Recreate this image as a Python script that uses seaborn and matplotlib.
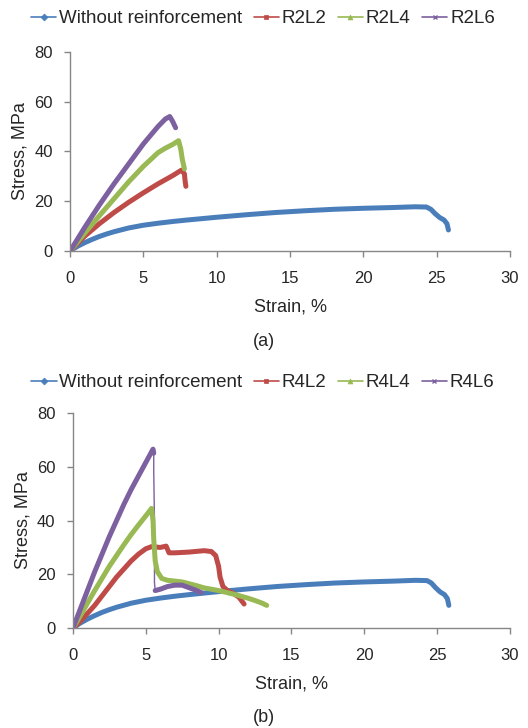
import numpy as np
import pandas as pd
import matplotlib
matplotlib.use("Agg")
import matplotlib.pyplot as plt
from matplotlib.lines import Line2D
import seaborn as sns

# --- data (strain %, stress MPa) ---
plain_x = [0, 0.25, 0.5, 1, 1.5, 2, 2.5, 3, 4, 5, 6, 7, 8, 10, 12, 14, 16, 18, 20, 22, 23.5, 24.3, 24.6, 24.9, 25.2, 25.5, 25.7, 25.8]
plain_y = [0, 1.0, 1.9, 3.4, 4.7, 5.9, 6.9, 7.8, 9.3, 10.4, 11.2, 11.9, 12.5, 13.6, 14.6, 15.5, 16.2, 16.8, 17.2, 17.5, 17.8, 17.7, 16.8, 15.0, 13.5, 12.5, 11.0, 8.5]

r2l2_x = [0, 1, 2, 3, 4, 5, 6, 7, 7.6, 7.8, 7.85, 7.9]
r2l2_y = [0, 6, 11, 15.5, 19.6, 23.4, 27, 30.3, 32.5, 31, 28, 26]
r2l4_x = [0, 1, 2, 3, 4, 5, 6, 6.5, 7, 7.4, 7.55, 7.65, 7.8]
r2l4_y = [0, 7.2, 14.2, 21, 27.8, 34, 39.5, 41.3, 42.8, 44.3, 41, 37, 33]
r2l6_x = [0, 1, 2, 3, 4, 5, 6, 6.5, 6.8, 7.0, 7.2]
r2l6_y = [0, 9.5, 18.5, 27, 35, 43, 50, 53, 54, 52, 49.5]

r4l2_x = [0, 0.5, 1, 1.5, 2, 2.5, 3, 3.5, 4, 4.5, 5, 5.4, 6, 6.4, 6.6, 7, 8, 9, 9.5, 9.8, 10, 10.1, 10.3, 10.6, 11, 11.4, 11.75]
r4l2_y = [0, 2.5, 5.5, 8.5, 12, 15.5, 19, 22, 25, 27.5, 29.5, 30.3, 30, 30.5, 28, 28, 28.3, 28.8, 28.5, 27, 23, 19, 15.5, 14, 13, 11.5, 9]
r4l4_x = [0, 0.5, 1, 1.5, 2, 2.5, 3, 3.5, 4, 4.5, 5, 5.4, 5.5, 5.55, 5.65, 5.8, 6.1, 6.5, 7, 7.5, 8, 8.5, 9, 10, 11, 12, 12.5, 13, 13.3]
r4l4_y = [0, 4.5, 9.3, 14, 18.5, 23, 27, 31, 34.8, 38.3, 41.7, 44.5, 40, 33, 25, 21, 18.5, 17.8, 17.5, 17.2, 16.5, 15.8, 15, 14, 12.7, 11.2, 10.3, 9.3, 8.5]
# R4L6: rising branch, sudden drop (thin), residual branch
r4l6_x = [0, 0.5, 1, 1.5, 2, 2.5, 3, 3.5, 4, 4.5, 5, 5.3, 5.5, 5.55, 5.55, 5.6, 5.6, 5.65, 6, 6.5, 7, 7.5, 8, 8.5, 8.8]
r4l6_y = [0, 7, 14, 21, 27.5, 34, 40, 46, 51.5, 56.5, 61.5, 64.5, 66.5, 65, 58, 40, 17, 14, 14.5, 15.5, 16, 16, 15, 14, 13.3]
r4l6_drop = (13, 17)  # index range of the thin drop segment

colors = ["#4A7EBB", "#BE4B48", "#98B954", "#7D60A0"]
markers = ["D", "s", "^", "x"]


def to_frame(series):
    rows = []
    for name, xs, ys in series:
        for i, (x, y) in enumerate(zip(xs, ys)):
            rows.append({"series": name, "order": i, "Strain": x, "Stress": y})
    return pd.DataFrame(rows)


sns.set_style("white")
plt.rcParams["font.family"] = ["Liberation Sans", "DejaVu Sans"]

fig = plt.figure(figsize=(5.28, 7.28), dpi=100)
ax1 = fig.add_axes([0.1326, 0.655, 0.8334, 0.274])
ax2 = fig.add_axes([0.138, 0.137, 0.828, 0.296])

a, b = r4l6_drop
panels = [
    (ax1, [("Without reinforcement", plain_x, plain_y), ("R2L2", r2l2_x, r2l2_y),
           ("R2L4", r2l4_x, r2l4_y), ("R2L6", r2l6_x, r2l6_y)], "(a)", 0.974, 342),
    (ax2, [("Without reinforcement", plain_x, plain_y), ("R4L2", r4l2_x, r4l2_y),
           ("R4L4", r4l4_x, r4l4_y), ("R4L6", r4l6_x, r4l6_y)], "(b)", 0.474, 718),
]

for k, (ax, series, tag, leg_y, tag_px) in enumerate(panels):
    names = [s[0] for s in series]
    if k == 1:
        # purple: thick branches, thin vertical drop
        name, xs, ys = series[3]
        parts = [(name, xs[:a + 1], ys[:a + 1]), (name + "_tail", xs[b:], ys[b:])]
        df = to_frame(series[:3] + parts)
        pal = dict(zip(names, colors))
        pal[name + "_tail"] = colors[3]
        sns.lineplot(x=xs[a:b + 1], y=ys[a:b + 1], sort=False, color=colors[3],
                     lw=1.0, ax=ax, estimator=None)
    else:
        df = to_frame(series)
        pal = dict(zip(names, colors))
    sns.lineplot(data=df, x="Strain", y="Stress", hue="series",
                 palette=pal, sort=False, estimator=None, units="series",
                 lw=3.6, ax=ax, legend=False)
    ax.set_xlim(0, 30)
    ax.set_ylim(0, 80)
    ax.set_xticks(range(0, 31, 5))
    ax.set_yticks(range(0, 81, 20))
    ax.set_xlabel("Strain, %", fontsize=13, labelpad=9)
    ax.set_ylabel("Stress, MPa", fontsize=13, labelpad=4)
    ax.tick_params(axis="both", labelsize=12, direction="out", length=4,
                   color="#868686", width=1, left=True, bottom=True)
    ax.tick_params(axis="x", pad=10.5)
    ax.tick_params(axis="y", pad=8.5)
    sns.despine(ax=ax)
    for sp in ["left", "bottom"]:
        ax.spines[sp].set_color("#868686")
        ax.spines[sp].set_linewidth(1)

    handles = [Line2D([], [], color=c, lw=1.2, marker=m, markersize=3.5,
                      markeredgewidth=1 if m == "x" else 0.5)
               for c, m in zip(colors, markers)]
    fig.legend(handles, names, loc="center", bbox_to_anchor=(0.498, leg_y),
               ncol=4, frameon=False, fontsize=13.5, handlelength=1.35,
               handletextpad=0.15, columnspacing=0.6)
    fig.text(264 / 528, 1 - tag_px / 728, tag, ha="center", va="center", fontsize=13)

fig.savefig("out.png", dpi=100)
